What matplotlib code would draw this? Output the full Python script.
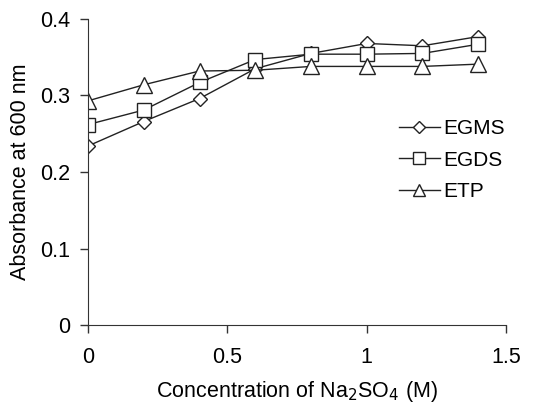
import matplotlib
matplotlib.use("Agg")
import matplotlib.pyplot as plt

plt.rcParams['font.family'] = ['Liberation Sans', 'DejaVu Sans']

conc = [0, 0.2, 0.4, 0.6, 0.8, 1.0, 1.2, 1.4]
egms = [0.234, 0.266, 0.296, 0.335, 0.355, 0.368, 0.365, 0.377]
egds = [0.262, 0.281, 0.317, 0.347, 0.354, 0.354, 0.355, 0.367]
etp = [0.293, 0.314, 0.332, 0.333, 0.338, 0.338, 0.338, 0.341]

fig = plt.figure(figsize=(5.35, 4.04), dpi=100)
ax = fig.add_axes([0.1645, 0.1955, 0.7815, 0.7575])

style = dict(color='#222222', lw=1.0, mfc='white', mec='#222222', mew=1.0)
ax.plot(conc, egms, marker='D', ms=7, label='EGMS', **style)
ax.plot(conc, egds, marker='s', ms=10, label='EGDS', **style)
ax.plot(conc, etp, marker='^', ms=11, label='ETP', **style)

ax.set_xlim(0, 1.5)
ax.set_ylim(0, 0.4)
ax.set_xticks([0, 0.5, 1, 1.5])
ax.set_xticklabels(['0', '0.5', '1', '1.5'])
ax.set_yticks([0, 0.1, 0.2, 0.3, 0.4])
ax.set_yticklabels(['0', '0.1', '0.2', '0.3', '0.4'])
for s in ['top', 'right']:
    ax.spines[s].set_visible(False)
for s in ['left', 'bottom']:
    ax.spines[s].set_color('#333333')
ax.tick_params(direction='out', length=6, width=1, color='#333333', labelsize=15.5)
ax.tick_params(axis='x', pad=10)
ax.tick_params(axis='y', pad=7)

ax.set_xlabel('Concentration of Na$_2$SO$_4$ (M)', fontsize=15.5, labelpad=8)
ax.set_ylabel('Absorbance at 600 nm', fontsize=15.5, labelpad=6)

leg = ax.legend(loc='center left', bbox_to_anchor=(0.718, 0.539), frameon=False, fontsize=15,
                handlelength=2.0, handletextpad=0.15, labelspacing=0.6, borderpad=0,
                markerscale=0.85)

fig.savefig('out.png', dpi=100)
